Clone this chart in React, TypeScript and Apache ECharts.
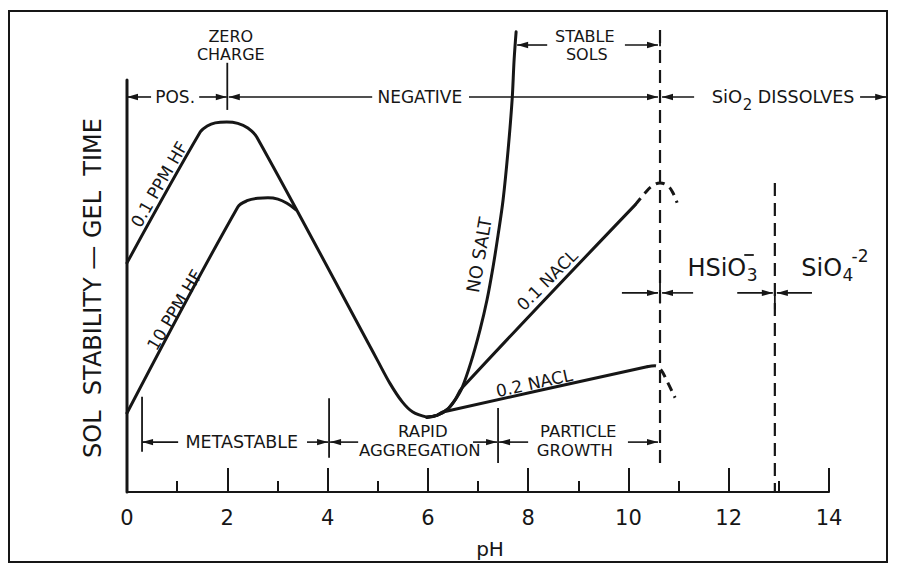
import { useEffect, useRef } from 'react';
import * as echarts from 'echarts';

const INK = '#161616';
const FONT = '"DejaVu Sans", "Liberation Sans", sans-serif';

// ---- axis ----
const PH_MIN = 0;
const PH_MAX = 14;
const PH_STEP = 2;
const Y_MIN = 0;
const Y_MAX = 100;
const X_NAME = 'pH';
const Y_TITLE = 'SOL  STABILITY — GEL  TIME';

// ---- curves: [pH, relative sol stability] ----
const hf01 = [[0, 49.6], [1.46, 77.9], [1.6, 79.2], [1.76, 79.9], [1.99, 80.1], [2.21, 79.8], [2.41, 78.8], [2.59, 76.8], [4.99, 28.6], [5.25, 23.4], [5.49, 19.5], [5.7, 17.3], [5.98, 16.2]];
const hf10 = [[0, 17.1], [2.21, 61.7], [2.41, 63.1], [2.61, 63.6], [2.81, 63.7], [3.01, 63.4], [3.19, 62.5], [3.37, 61.1]];
const noSalt = [[5.98, 16.2], [6.18, 16.6], [6.38, 17.8], [6.54, 19.9], [6.68, 22.5], [6.86, 28.1], [7.04, 35.1], [7.18, 41.6], [7.3, 48.7], [7.4, 55.6], [7.5, 63.2], [7.6, 74.0], [7.68, 84.8], [7.72, 93.5], [7.76, 99.6]];
const nacl01 = [[5.98, 16.2], [6.18, 16.6], [6.38, 17.8], [6.54, 19.9], [6.68, 22.5], [10.13, 62.1]];
const nacl01Tail = [[10.13, 62.1], [10.33, 64.7], [10.47, 66.2], [10.63, 66.9], [10.79, 66.2], [10.89, 64.7], [10.97, 62.6]];
const nacl02 = [[5.98, 16.2], [6.18, 16.6], [6.3, 17.3], [10.37, 27.1]];
const nacl02Tail = [[10.37, 27.1], [10.53, 27.3], [10.65, 26.4], [10.77, 24.0], [10.93, 20.4]];

// ---- boundaries ----
const yAxisLine = [[0, 89.2], [0, 0]];
const stableLimitLine = [[10.63, 100], [10.63, 6.3]];
const dissolveLine = [[12.92, 66.9], [12.92, 0]];

// ---- curve labels: [text, pH, value, fontSize, rotationDeg] ----
const curveLabels: [string, number, number, number, number][] = [
  ['0.1 PPM HF', 0.64, 66.6, 17, 60],
  ['10 PPM HF', 0.95, 39.4, 17, 59],
  ['NO SALT', 7.02, 51.3, 18, 80],
  ['0.1 NACL', 8.38, 45.9, 17, 45],
  ['0.2 NACL', 8.12, 23.6, 17, 12.5],
];

// ---- region labels: [text, pH, value, fontSize, align] ----
const regionLabels: [string, number, number, number, string][] = [
  ['ZERO', 2.07, 98.5, 16, 'center'],
  ['CHARGE', 2.07, 94.6, 16, 'center'],
  ['STABLE', 9.13, 98.5, 16, 'center'],
  ['SOLS', 9.17, 94.6, 16, 'center'],
  ['POS.', 0.96, 85.5, 17, 'center'],
  ['NEGATIVE', 5.84, 85.5, 17, 'center'],
  ['DISSOLVES', 12.58, 85.5, 17.5, 'left'],
  ['METASTABLE', 2.29, 10.8, 17.5, 'center'],
  ['RAPID', 5.9, 13.1, 16.5, 'center'],
  ['AGGREGATION', 5.84, 9.0, 16.5, 'center'],
  ['PARTICLE', 9.0, 13.1, 16.5, 'center'],
  ['GROWTH', 8.93, 9.0, 16.5, 'center'],
];

// chemical formulas: [text, pH, value, fontSize, align]
const formulaParts: [string, number, number, number, string][] = [
  ['SiO', 12.27, 85.5, 18, 'right'],
  ['2', 12.28, 83.8, 15, 'left'],
  ['HSiO', 12.35, 48.5, 24, 'right'],
  ['3', 12.36, 46.9, 17, 'left'],
  ['SiO', 14.26, 48.5, 24, 'right'],
  ['4', 14.27, 46.9, 17, 'left'],
  ['-2', 14.45, 51.0, 17, 'left'],
];
const formulaBars = [[12.31, 12.5, 51.3]];

// ---- brackets: [pH from, pH to, value, arrow at 's'tart / 'e'nd] ----
const bracketSegments: [number, number, number, string][] = [
  [0, 0.48, 85.5, 's'], [1.44, 1.99, 85.5, 'e'], [2.03, 4.89, 85.5, 's'], [6.82, 10.59, 85.5, 'e'],
  [10.67, 11.31, 85.5, 's'], [14.62, 15.14, 85.5, 'e'],
  [7.78, 8.38, 96.75, 's'], [9.93, 10.59, 96.75, 'e'],
  [9.87, 10.59, 43.1, 'e'], [10.67, 11.29, 43.1, 's'], [12.17, 12.88, 43.1, 'e'], [12.96, 13.66, 43.1, 's'],
  [0.3, 1.02, 10.8, 's'], [3.59, 4.01, 10.8, 'e'], [4.05, 4.61, 10.8, 's'], [6.9, 7.38, 10.8, 'e'],
  [7.42, 8.0, 10.8, 's'], [9.99, 10.59, 10.8, 'e'],
];
// vertical ticks: [pH, value top, value bottom]
const bracketTicks = [
  [2.0, 92.9, 82.7], [10.63, 100, 96.5], [10.63, 45.5, 40.8], [12.92, 43.1, 39.5],
  [0.3, 20.6, 8.7], [4.03, 20.3, 7.4], [7.4, 18.2, 6.3],
];

const solid = (name: string, data: number[][], smooth = 0.35) => ({
  name, type: 'line', data, smooth, symbol: 'none', silent: true, clip: false,
  lineStyle: { color: INK, width: 3, cap: 'round', join: 'round' },
});
const dashed = (name: string, data: number[][], dash: number[], width: number, smooth = 0.4) => ({
  name, type: 'line', data, smooth, symbol: 'none', silent: true, clip: false,
  lineStyle: { color: INK, width, type: dash, cap: 'butt' },
});

export default function App() {
  const ref = useRef<HTMLDivElement>(null);
  useEffect(() => {
    const chart = echarts.init(ref.current!, null, { renderer: 'svg' });
    chart.setOption({
      animation: false,
      backgroundColor: '#ffffff',
      grid: { left: 127, right: 68, top: 30, bottom: 78, containLabel: false },
      xAxis: {
        type: 'value', min: PH_MIN, max: PH_MAX, interval: PH_STEP,
        name: X_NAME, nameLocation: 'middle', nameGap: 47,
        nameTextStyle: { color: INK, fontSize: 20, fontFamily: FONT, padding: [0, 0, 0, 24] },
        axisLine: { show: true, lineStyle: { color: INK, width: 2 } },
        axisTick: { show: true, inside: true, length: 24, lineStyle: { color: INK, width: 2 } },
        minorTick: { show: true, splitNumber: 2, length: 11, lineStyle: { color: INK, width: 2 } },
        axisLabel: { color: INK, fontSize: 21, fontFamily: FONT, margin: 15 },
        splitLine: { show: false },
        minorSplitLine: { show: false },
      },
      yAxis: {
        type: 'value', min: Y_MIN, max: Y_MAX,
        axisLine: { show: false }, axisTick: { show: false }, axisLabel: { show: false },
        splitLine: { show: false },
      },
      series: [
        solid('axis', yAxisLine, 0),
        solid('0.1 PPM HF', hf01),
        solid('10 PPM HF', hf10),
        solid('NO SALT', noSalt),
        solid('0.1 NACL', nacl01),
        solid('0.2 NACL', nacl02, 0.2),
        dashed('0.1 NACL tail', nacl01Tail, [9, 6], 3),
        dashed('0.2 NACL tail', nacl02Tail, [9, 6], 3),
        dashed('stable limit', stableLimitLine, [13, 7], 2.2, 0),
        dashed('dissolve limit', dissolveLine, [13, 7], 2.2, 0),
      ],
    });

    const P = (x: number, y: number) => chart.convertToPixel({ gridIndex: 0 }, [x, y]) as number[];
    const els: any[] = [];
    els.push({ type: 'rect', shape: { x: 9, y: 11, width: 878, height: 551 }, style: { fill: 'none', stroke: INK, lineWidth: 2 }, silent: true });
    const mid = P(0, 50);
    els.push({
      type: 'text', x: mid[0] - 34, y: 288, rotation: Math.PI / 2, silent: true,
      style: { text: Y_TITLE, fill: INK, font: `24px ${FONT}`, align: 'center', verticalAlign: 'middle' },
    });
    const arrow = (tx: number, ty: number, dir: number) => ({
      type: 'polygon', silent: true,
      shape: { points: [[tx, ty], [tx - dir * 11, ty - 3.2], [tx - dir * 11, ty + 3.2]] },
      style: { fill: INK },
    });
    bracketSegments.forEach(([a, b, v, w]) => {
      const p1 = P(a, v);
      const p2 = P(b, v);
      els.push({ type: 'line', silent: true, shape: { x1: p1[0], y1: p1[1], x2: p2[0], y2: p2[1] }, style: { stroke: INK, lineWidth: 1.6 } });
      if (w === 's') els.push(arrow(p1[0], p1[1], -1));
      else els.push(arrow(p2[0], p2[1], 1));
    });
    bracketTicks.forEach(([x, a, b]) => {
      const p1 = P(x, a);
      const p2 = P(x, b);
      els.push({ type: 'line', silent: true, shape: { x1: p1[0], y1: p1[1], x2: p2[0], y2: p2[1] }, style: { stroke: INK, lineWidth: 1.8 } });
    });
    formulaBars.forEach(([a, b, v]) => {
      const p1 = P(a, v);
      const p2 = P(b, v);
      els.push({ type: 'line', silent: true, shape: { x1: p1[0], y1: p1[1], x2: p2[0], y2: p2[1] }, style: { stroke: INK, lineWidth: 1.8 } });
    });
    curveLabels.forEach(([t, x, v, s, r]) => {
      const p = P(x, v);
      els.push({
        type: 'text', x: p[0], y: p[1], rotation: (r * Math.PI) / 180, silent: true,
        style: { text: t, fill: INK, font: `${s}px ${FONT}`, align: 'center', verticalAlign: 'middle' },
      });
    });
    regionLabels.forEach(([t, x, v, s, al]) => {
      const p = P(x, v);
      els.push({
        type: 'text', x: p[0], y: p[1], silent: true,
        style: { text: t, fill: INK, font: `${s}px ${FONT}`, align: al, verticalAlign: 'middle' },
      });
    });
    formulaParts.forEach(([t, x, v, s, al]) => {
      const p = P(x, v);
      els.push({
        type: 'text', x: p[0], y: p[1], silent: true,
        style: { text: t, fill: INK, font: `${s}px ${FONT}`, align: al, verticalAlign: 'middle' },
      });
    });
    chart.setOption({ graphic: { elements: els } });
    return () => chart.dispose();
  }, []);
  return <div ref={ref} style={{ position: 'absolute', left: 0, top: 0, width: 897, height: 570, background: '#fff' }} />;
}
